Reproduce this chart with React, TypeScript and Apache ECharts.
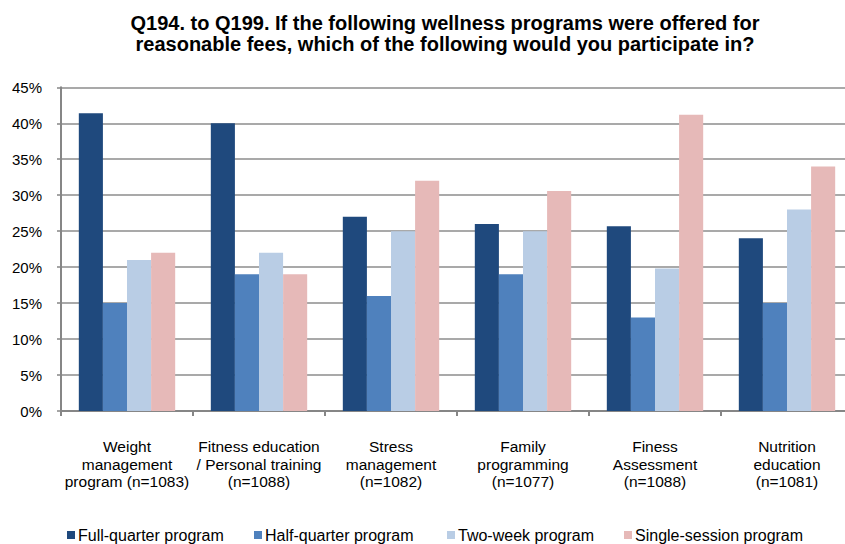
import React, { useEffect, useRef } from "react";
import * as echarts from "echarts";

const categories = [
  "Weight\nmanagement\nprogram (n=1083)",
  "Fitness education\n/ Personal training\n(n=1088)",
  "Stress\nmanagement\n(n=1082)",
  "Family\nprogramming\n(n=1077)",
  "Finess\nAssessment\n(n=1088)",
  "Nutrition\neducation\n(n=1081)",
];
const seriesNames = ["Full-quarter program", "Half-quarter program", "Two-week program", "Single-session program"];
const fullQuarter = [41.4, 40, 27, 26, 25.7, 24];
const halfQuarter = [15, 19, 16, 19, 13, 15];
const twoWeek = [21, 22, 25, 25, 19.8, 28];
const singleSession = [22, 19, 32, 30.6, 41.2, 34];
const colors = ["#1F497D", "#4F81BD", "#B9CDE5", "#E6B9B8"];
const legendLefts = [67, 254, 447, 624];

export default function App() {
  const ref = useRef<HTMLDivElement>(null);
  useEffect(() => {
    const chart = echarts.init(ref.current!, null, { renderer: "svg" });
    const data = [fullQuarter, halfQuarter, twoWeek, singleSession];
    const font = "Arial, 'Liberation Sans', sans-serif";
    chart.setOption({
      animation: false,
      textStyle: { fontFamily: font },
      graphic: [
        {
          type: "text",
          x: 445,
          y: 13,
          style: {
            text: "Q194. to Q199. If the following wellness programs were offered for\nreasonable fees, which of the following would you participate in?",
            textAlign: "center",
            textVerticalAlign: "top",
            fontSize: 20,
            fontWeight: "bold",
            lineHeight: 20.5,
            fill: "#000",
            fontFamily: font,
          },
        },
      ],
      legend: seriesNames.map((n, i) => ({
        data: [n],
        left: legendLefts[i],
        top: 527,
        icon: "rect",
        itemWidth: 8,
        itemHeight: 8,
        itemGap: 4,
        padding: 0,
        textStyle: { fontSize: 16, color: "#000", fontFamily: font, padding: [0, 0, 0, -2] },
      })),
      grid: { left: 61, top: 87.3, width: 792, bottom: 133, containLabel: false },
      xAxis: {
        type: "category",
        data: categories,
        axisLine: { lineStyle: { color: "#868686", width: 2 } },
        axisTick: { show: true, length: 5, lineStyle: { color: "#868686", width: 2 } },
        axisLabel: { fontSize: 15.5, color: "#000", lineHeight: 17.5, margin: 27, interval: 0, fontFamily: font },
      },
      yAxis: {
        type: "value",
        min: 0,
        max: 45,
        interval: 5,
        axisLine: { show: true, lineStyle: { color: "#868686", width: 2 } },
        axisTick: { show: true, length: 4, lineStyle: { color: "#868686", width: 1.5 } },
        splitLine: { lineStyle: { color: "#8c8c8c", width: 1.5 } },
        axisLabel: { fontSize: 15, color: "#000", formatter: "{value}%", margin: 19, fontFamily: font },
      },
      series: seriesNames.map((n, i) => ({
        name: n,
        type: "bar",
        data: data[i],
        barGap: "0%",
        barCategoryGap: "27%",
        itemStyle: { color: colors[i] },
      })),
    });
    return () => chart.dispose();
  }, []);
  return (
    <div style={{ position: "fixed", left: 0, top: 0, width: 845, height: 544, overflow: "hidden", background: "#fff" }}>
      <div ref={ref} style={{ position: "absolute", left: 0, top: 0, width: 853, height: 544 }} />
    </div>
  );
}
